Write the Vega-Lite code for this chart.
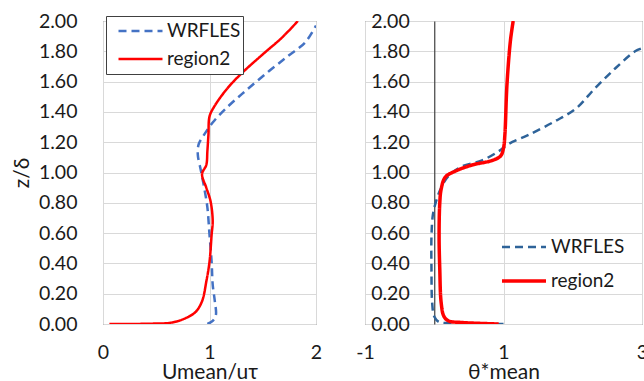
{
  "$schema": "https://vega.github.io/schema/vega-lite/v6.json",
  "padding": {"left": 10, "top": 10, "right": 0, "bottom": 0},
  "bounds": "flush",
  "spacing": 49,
  "config": {
    "font": "Lato",
    "view": {"stroke": "#595959", "strokeWidth": 1},
    "axis": {
      "labelFont": "Lato", "labelFontSize": 19.5, "labelColor": "#1a1a1a",
      "titleFont": "Lato", "titleFontSize": 21, "titleFontWeight": "normal", "titleColor": "#1a1a1a",
      "ticks": false, "tickSize": 0, "domain": false, "labelFlush": false,
      "gridColor": "#d9d9d9", "gridWidth": 1
    },
    "legend": {
      "labelFont": "Lato", "labelFontSize": 19, "labelColor": "#1a1a1a",
      "title": null, "symbolType": "stroke", "symbolSize": 1936, "symbolStrokeWidth": 2.5, "labelOffset": 3
    }
  },
  "datasets": {
    "u": [
      {"series": "WRFLES", "i": 0, "x": 0.98, "z": 0},
      {"series": "WRFLES", "i": 1, "x": 1.03, "z": 0.02},
      {"series": "WRFLES", "i": 2, "x": 1.06, "z": 0.06},
      {"series": "WRFLES", "i": 3, "x": 1.05, "z": 0.15},
      {"series": "WRFLES", "i": 4, "x": 1.03, "z": 0.26},
      {"series": "WRFLES", "i": 5, "x": 1.02, "z": 0.41},
      {"series": "WRFLES", "i": 6, "x": 1.00, "z": 0.59},
      {"series": "WRFLES", "i": 7, "x": 0.98, "z": 0.77},
      {"series": "WRFLES", "i": 8, "x": 0.95, "z": 0.90},
      {"series": "WRFLES", "i": 9, "x": 0.92, "z": 1.01},
      {"series": "WRFLES", "i": 10, "x": 0.89, "z": 1.12},
      {"series": "WRFLES", "i": 11, "x": 0.90, "z": 1.19},
      {"series": "WRFLES", "i": 12, "x": 0.95, "z": 1.25},
      {"series": "WRFLES", "i": 13, "x": 1.03, "z": 1.33},
      {"series": "WRFLES", "i": 14, "x": 1.15, "z": 1.42},
      {"series": "WRFLES", "i": 15, "x": 1.34, "z": 1.54},
      {"series": "WRFLES", "i": 16, "x": 1.56, "z": 1.67},
      {"series": "WRFLES", "i": 17, "x": 1.74, "z": 1.77},
      {"series": "WRFLES", "i": 18, "x": 1.90, "z": 1.86},
      {"series": "WRFLES", "i": 19, "x": 2.0, "z": 1.97},
      {"series": "region2", "i": 0, "x": 0.06, "z": 0},
      {"series": "region2", "i": 1, "x": 0.44, "z": 0.002},
      {"series": "region2", "i": 2, "x": 0.65, "z": 0.01},
      {"series": "region2", "i": 3, "x": 0.78, "z": 0.04},
      {"series": "region2", "i": 4, "x": 0.87, "z": 0.08},
      {"series": "region2", "i": 5, "x": 0.93, "z": 0.15},
      {"series": "region2", "i": 6, "x": 0.97, "z": 0.28},
      {"series": "region2", "i": 7, "x": 1.00, "z": 0.41},
      {"series": "region2", "i": 8, "x": 1.02, "z": 0.59},
      {"series": "region2", "i": 9, "x": 1.03, "z": 0.68},
      {"series": "region2", "i": 10, "x": 1.01, "z": 0.81},
      {"series": "region2", "i": 11, "x": 0.97, "z": 0.90},
      {"series": "region2", "i": 12, "x": 0.93, "z": 0.99},
      {"series": "region2", "i": 13, "x": 0.97, "z": 1.05},
      {"series": "region2", "i": 14, "x": 0.98, "z": 1.14},
      {"series": "region2", "i": 15, "x": 0.99, "z": 1.25},
      {"series": "region2", "i": 16, "x": 1.00, "z": 1.37},
      {"series": "region2", "i": 17, "x": 1.04, "z": 1.43},
      {"series": "region2", "i": 18, "x": 1.15, "z": 1.54},
      {"series": "region2", "i": 19, "x": 1.28, "z": 1.64},
      {"series": "region2", "i": 20, "x": 1.50, "z": 1.78},
      {"series": "region2", "i": 21, "x": 1.68, "z": 1.89},
      {"series": "region2", "i": 22, "x": 1.83, "z": 2.0}
    ],
    "t": [
      {"series": "WRFLES", "i": 0, "x": 1.00, "z": 0},
      {"series": "WRFLES", "i": 1, "x": 0.64, "z": 0.002},
      {"series": "WRFLES", "i": 2, "x": 0.31, "z": 0.007},
      {"series": "WRFLES", "i": 3, "x": 0.07, "z": 0.013},
      {"series": "WRFLES", "i": 4, "x": 0.00, "z": 0.05},
      {"series": "WRFLES", "i": 5, "x": -0.03, "z": 0.14},
      {"series": "WRFLES", "i": 6, "x": -0.04, "z": 0.36},
      {"series": "WRFLES", "i": 7, "x": -0.04, "z": 0.58},
      {"series": "WRFLES", "i": 8, "x": -0.02, "z": 0.72},
      {"series": "WRFLES", "i": 9, "x": 0.02, "z": 0.80},
      {"series": "WRFLES", "i": 10, "x": 0.09, "z": 0.89},
      {"series": "WRFLES", "i": 11, "x": 0.21, "z": 0.98},
      {"series": "WRFLES", "i": 12, "x": 0.40, "z": 1.04},
      {"series": "WRFLES", "i": 13, "x": 0.69, "z": 1.08},
      {"series": "WRFLES", "i": 14, "x": 0.93, "z": 1.14},
      {"series": "WRFLES", "i": 15, "x": 1.08, "z": 1.19},
      {"series": "WRFLES", "i": 16, "x": 1.37, "z": 1.25},
      {"series": "WRFLES", "i": 17, "x": 1.75, "z": 1.34},
      {"series": "WRFLES", "i": 18, "x": 2.04, "z": 1.42},
      {"series": "WRFLES", "i": 19, "x": 2.33, "z": 1.56},
      {"series": "WRFLES", "i": 20, "x": 2.62, "z": 1.69},
      {"series": "WRFLES", "i": 21, "x": 2.90, "z": 1.80},
      {"series": "WRFLES", "i": 22, "x": 3.0, "z": 1.82},
      {"series": "region2", "i": 0, "x": 0.93, "z": 0},
      {"series": "region2", "i": 1, "x": 0.40, "z": 0.01},
      {"series": "region2", "i": 2, "x": 0.21, "z": 0.02},
      {"series": "region2", "i": 3, "x": 0.14, "z": 0.05},
      {"series": "region2", "i": 4, "x": 0.10, "z": 0.14},
      {"series": "region2", "i": 5, "x": 0.08, "z": 0.36},
      {"series": "region2", "i": 6, "x": 0.07, "z": 0.58},
      {"series": "region2", "i": 7, "x": 0.08, "z": 0.80},
      {"series": "region2", "i": 8, "x": 0.10, "z": 0.89},
      {"series": "region2", "i": 9, "x": 0.16, "z": 0.97},
      {"series": "region2", "i": 10, "x": 0.31, "z": 1.01},
      {"series": "region2", "i": 11, "x": 0.55, "z": 1.05},
      {"series": "region2", "i": 12, "x": 0.84, "z": 1.08},
      {"series": "region2", "i": 13, "x": 0.96, "z": 1.11},
      {"series": "region2", "i": 14, "x": 1.00, "z": 1.16},
      {"series": "region2", "i": 15, "x": 1.02, "z": 1.25},
      {"series": "region2", "i": 16, "x": 1.05, "z": 1.58},
      {"series": "region2", "i": 17, "x": 1.10, "z": 1.87},
      {"series": "region2", "i": 18, "x": 1.14, "z": 2.0}
    ]
  },
  "hconcat": [
    {
      "width": 213, "height": 303,
      "data": {"name": "u"},
      "mark": {"type": "line", "strokeWidth": 2.5, "clip": true, "interpolate": "catmull-rom"},
      "encoding": {
        "x": {"field": "x", "type": "quantitative", "scale": {"domain": [0, 2], "nice": false},
              "axis": {"values": [0, 1, 2], "labelExpr": "'' + datum.value", "title": "Umean/uτ", "labelPadding": 19, "titlePadding": 0}},
        "y": {"field": "z", "type": "quantitative", "scale": {"domain": [0, 2], "nice": false},
              "axis": {"values": [0, 0.2, 0.4, 0.6, 0.8, 1, 1.2, 1.4, 1.6, 1.8, 2], "format": ".2f", "title": "z/δ", "labelPadding": 26, "titlePadding": 6}},
        "color": {"field": "series", "type": "nominal",
                  "scale": {"domain": ["WRFLES", "region2"], "range": ["#4472C4", "#FF0000"]},
                  "legend": {"orient": "none", "legendX": 3, "legendY": -5, "strokeColor": "#404040", "fillColor": "white", "padding": 2, "clipHeight": 26, "rowPadding": 2, "symbolOffset": 9}},
        "strokeDash": {"field": "series", "type": "nominal",
                       "scale": {"domain": ["WRFLES", "region2"], "range": [[8, 5], [1, 0]]},
                       "legend": {"orient": "none", "legendX": 3, "legendY": -5, "strokeColor": "#404040", "fillColor": "white", "padding": 2, "clipHeight": 26, "rowPadding": 2, "symbolOffset": 9}},
        "order": {"field": "i", "type": "quantitative"}
      }
    },
    {
      "width": 277, "height": 303,
      "data": {"name": "t"},
      "mark": {"type": "line", "clip": true, "interpolate": "catmull-rom"},
      "encoding": {
        "x": {"field": "x", "type": "quantitative", "scale": {"domain": [-1, 3], "nice": false},
              "axis": {"values": [-1, 1, 3], "labelExpr": "'' + datum.value", "title": "θ*mean", "labelPadding": 19, "titlePadding": 0}},
        "y": {"field": "z", "type": "quantitative", "scale": {"domain": [0, 2], "nice": false},
              "axis": {"values": [0, 0.2, 0.4, 0.6, 0.8, 1, 1.2, 1.4, 1.6, 1.8, 2], "format": ".2f", "title": null, "labelPadding": 25, "offset": -69.25, "domain": true, "domainColor": "#404040", "domainWidth": 1.2}},
        "color": {"field": "series", "type": "nominal",
                  "scale": {"domain": ["WRFLES", "region2"], "range": ["#2E6399", "#FF0000"]},
                  "legend": {"orient": "none", "legendX": 135, "legendY": 210, "padding": 0, "clipHeight": 32, "rowPadding": 2}},
        "strokeDash": {"field": "series", "type": "nominal",
                       "scale": {"domain": ["WRFLES", "region2"], "range": [[8, 5], [1, 0]]},
                       "legend": {"orient": "none", "legendX": 135, "legendY": 210, "padding": 0, "clipHeight": 32, "rowPadding": 2}},
        "strokeWidth": {"field": "series", "type": "nominal",
                       "scale": {"domain": ["WRFLES", "region2"], "range": [2.5, 3.5]},
                       "legend": {"orient": "none", "legendX": 135, "legendY": 210, "padding": 0, "clipHeight": 32, "rowPadding": 2}},
        "order": {"field": "i", "type": "quantitative"}
      }
    }
  ],
  "resolve": {"scale": {"color": "independent", "strokeDash": "independent", "strokeWidth": "independent"}, "legend": {"color": "independent", "strokeDash": "independent"}}
}
